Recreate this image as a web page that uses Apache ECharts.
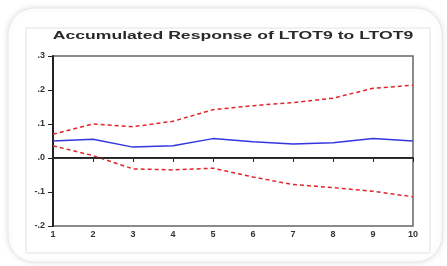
<!DOCTYPE html>
<html>
<head>
<meta charset="utf-8">
<script src="https://cdn.jsdelivr.net/npm/echarts@6/dist/echarts.min.js"></script>
<style>
  html, body { margin: 0; padding: 0; background: #fff; }
  #chart { width: 447px; height: 266px; }
</style>
</head>
<body>
<div id="chart"></div>
<script>
const periods = ['1', '2', '3', '4', '5', '6', '7', '8', '9', '10']
const response = [0.050, 0.055, 0.032, 0.036, 0.057, 0.048, 0.041, 0.045, 0.057, 0.050]
const upperBand = [0.070, 0.100, 0.092, 0.108, 0.142, 0.154, 0.163, 0.176, 0.205, 0.214]
const lowerBand = [0.036, 0.007, -0.032, -0.035, -0.030, -0.056, -0.078, -0.087, -0.098, -0.114]
const titleText = 'Accumulated Response of LTOT9 to LTOT9'

const chart = echarts.init(document.getElementById('chart'))

function fmtY(v) {
  const s = v.toFixed(1)
  return s.replace(/^(-?)0\./, '$1.')
}

const band = (name, data) => ({
  name,
  type: 'line',
  data,
  symbol: 'none',
  lineStyle: { color: '#e0262a', width: 1.5, type: [4, 3] },
  z: 3,
})

chart.setOption({
  animation: false,
  graphic: [
    {
      type: 'rect',
      shape: { x: 8, y: 8, width: 434, height: 254, r: 26 },
      style: { fill: '#fff', stroke: '#e6e6e6', lineWidth: 1, shadowBlur: 6, shadowColor: 'rgba(0,0,0,0.12)' },
      z: -10,
    },
    {
      type: 'rect',
      shape: { x: 26, y: 28, width: 404, height: 225 },
      style: { fill: '#fff', stroke: '#e2e2e2', lineWidth: 1 },
      z: -9,
    },
    {
      type: 'text',
      x: 233,
      y: 36,
      scaleX: 1.6,
      style: {
        text: titleText,
        fontSize: 11,
        fontWeight: 'bold',
        fontFamily: 'Liberation Sans',
        fill: '#2a2a2a',
        align: 'center',
        verticalAlign: 'middle',
      },
    },
  ],
  grid: {
    left: 53, right: 34, top: 56, bottom: 40,
    show: true, borderColor: '#666', borderWidth: 1.5,
  },
  xAxis: {
    type: 'category',
    data: periods,
    boundaryGap: false,
    axisLine: { lineStyle: { color: '#222', width: 2 } },
    axisTick: { show: true, length: 4, alignWithLabel: true, lineStyle: { color: '#222' } },
    axisLabel: { color: '#333', fontSize: 9, fontWeight: 'bold', margin: 4, fontFamily: 'Liberation Sans' },
    splitLine: { show: false },
  },
  yAxis: {
    type: 'value',
    min: -0.2, max: 0.3, interval: 0.1,
    axisLine: { show: true, lineStyle: { color: '#222', width: 2 } },
    axisTick: { show: true, length: 5, lineStyle: { color: '#222' } },
    axisLabel: { color: '#333', fontSize: 9, fontWeight: 'bold', margin: 8, fontFamily: 'Liberation Sans', formatter: fmtY },
    splitLine: { show: false },
  },
  series: [
    {
      name: 'Response',
      type: 'line',
      data: response,
      symbol: 'none',
      lineStyle: { color: '#3535e0', width: 1.5 },
      z: 4,
      markLine: {
        silent: true,
        symbol: 'none',
        label: { show: false },
        lineStyle: { color: '#333', width: 1, type: 'solid' },
        data: [{ yAxis: 0 }],
      },
    },
    band('Upper', upperBand),
    band('Lower', lowerBand),
  ],
})
</script>
</body>
</html>
